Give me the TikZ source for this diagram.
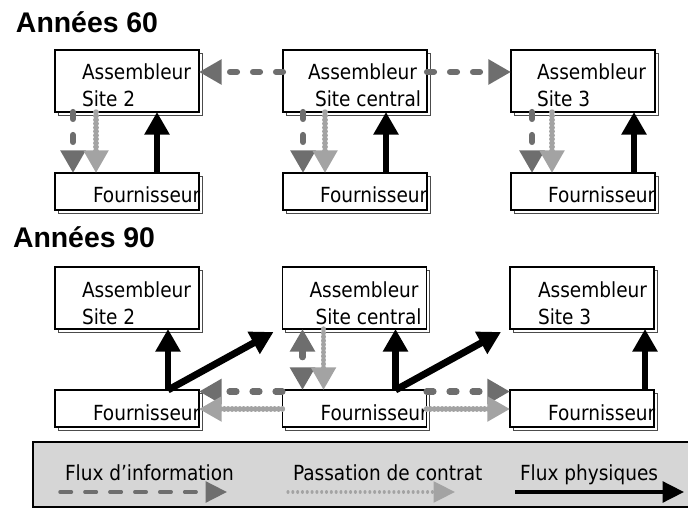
\documentclass[tikz,border=0pt]{standalone}
\usepackage{fontspec}
\setmainfont{DejaVu Sans}[FakeStretch=0.89]
\newfontfamily\titlefont{Liberation Sans}
\usetikzlibrary{arrows.meta,calc,shadows}

\definecolor{infogrey}{HTML}{6E6E6E}
\definecolor{contractgrey}{HTML}{A3A3A3}
\definecolor{legendfill}{HTML}{D6D6D6}

\tikzset{
  box/.style={draw=black, line width=0.8pt, fill=white, inner sep=0pt, outer sep=0pt,
    minimum width=108pt,
    copy shadow={shadow xshift=2.2pt, shadow yshift=-2.2pt, draw=black!70, fill=white, line width=0.6pt}},
  asm/.style={box, minimum height=46.5pt},
  four/.style={box, minimum height=27.75pt},
  lbl/.style={anchor=base west, inner sep=0pt, outer sep=0pt,
    font=\fontsize{15.6pt}{18pt}\selectfont},
  title/.style={anchor=base west, inner sep=0pt, outer sep=0pt,
    font=\titlefont\bfseries\fontsize{21.3pt}{24pt}\selectfont},
  bighead/.style={-{Triangle[width=18pt,length=17pt]}},
  info/.style={draw=infogrey, line width=4.6pt, line cap=round, dash pattern=on 5.25pt off 12pt, bighead},
  contract/.style={draw=contractgrey, line width=4pt, line cap=round, dash pattern=on 0.01pt off 2.9pt, bighead},
  phys/.style={draw=black, line width=5.2pt, bighead},
  smallhead/.style={-{Triangle[width=15.5pt,length=16pt]}},
  infokey/.style={draw=infogrey, line width=2.6pt, line cap=round, dash pattern=on 8.6pt off 10.1pt, smallhead},
  contractkey/.style={draw=contractgrey, line width=2.3pt, line cap=round, dash pattern=on 0.01pt off 3.6pt, smallhead},
  physkey/.style={draw=black, line width=2.6pt, smallhead},
  keybox/.style={draw=black, line width=1.8pt, fill=legendfill, inner sep=0pt, outer sep=0pt,
    minimum width=504pt, minimum height=48.75pt}
}

\begin{document}
\begin{tikzpicture}[x=0.75pt, y=-0.75pt]
\useasboundingbox (0,0) rectangle (688,509);

% ---------- Années 60 ----------
\node[title] (t60) at (16,33) {Années 60};

\node[asm] (a1) at (127,81) {};
\node[asm] (a2) at (355,81) {};
\node[asm] (a3) at (583,81) {};
\node[four] (f1) at (127,191.5) {};
\node[four] (f2) at (355,191.5) {};
\node[four] (f3) at (583,191.5) {};

\node[lbl] (a1x) at ($(a1.north west)+(27,30)$) {Assembleur};
\node[lbl] (a1y) at ($(a1.north west)+(27,57)$) {Site 2};
\node[lbl] (a2x) at ($(a2.north west)+(25,30)$) {Assembleur};
\node[lbl] (a2y) at ($(a2.north west)+(32,57)$) {Site central};
\node[lbl] (a3x) at ($(a3.north west)+(26,30)$) {Assembleur};
\node[lbl] (a3y) at ($(a3.north west)+(26,57)$) {Site 3};
\node[lbl] (f1x) at ($(f1.north west)+(38,30)$) {Fournisseur};
\node[lbl] (f2x) at ($(f2.north west)+(37,30)$) {Fournisseur};
\node[lbl] (f3x) at ($(f3.north west)+(37,30)$) {Fournisseur};

% information exchanged between the assembly sites
\draw[info] ($(a2.north west)+(0,22)$) -- ($(a1.north east)+(0,22)$);
\draw[info] ($(a2.north east)+(0,22)$) -- ($(a3.north west)+(0,22)$);

% each site with its own supplier
\draw[info] ($(a1.south west)+(18,0)$) -- ($(f1.north west)+(18,0)$);
\draw[contract] ($(a1.south west)+(41,0)$) -- ($(f1.north west)+(41,0)$);
\draw[phys] ($(f1.north west)+(102,0)$) -- ($(a1.south west)+(102,0)$);

\draw[info] ($(a2.south west)+(20,0)$) -- ($(f2.north west)+(20,0)$);
\draw[contract] ($(a2.south west)+(42,0)$) -- ($(f2.north west)+(42,0)$);
\draw[phys] ($(f2.north west)+(103,0)$) -- ($(a2.south west)+(103,0)$);

\draw[info] ($(a3.south west)+(21,0)$) -- ($(f3.north west)+(21,0)$);
\draw[contract] ($(a3.south west)+(41,0)$) -- ($(f3.north west)+(41,0)$);
\draw[phys] ($(f3.north west)+(123,0)$) -- ($(a3.south west)+(123,0)$);

% ---------- Années 90 ----------
\node[title] (t90) at (13,248) {Années 90};

\node[asm] (a4) at (127,298) {};
\node[asm] (a5) at (354.5,298) {};
\node[asm] (a6) at (582,298) {};
\node[four] (f4) at (127,408.5) {};
\node[four] (f5) at (354.5,408.5) {};
\node[four] (f6) at (582,408.5) {};

\node[lbl] (a4x) at ($(a4.north west)+(27,31)$) {Assembleur};
\node[lbl] (a4y) at ($(a4.north west)+(27,58)$) {Site 2};
\node[lbl] (a5x) at ($(a5.north west)+(27,31)$) {Assembleur};
\node[lbl] (a5y) at ($(a5.north west)+(33,58)$) {Site central};
\node[lbl] (a6x) at ($(a6.north west)+(28,31)$) {Assembleur};
\node[lbl] (a6y) at ($(a6.north west)+(28,58)$) {Site 3};
\node[lbl] (f4x) at ($(f4.north west)+(38,30.5)$) {Fournisseur};
\node[lbl] (f5x) at ($(f5.north west)+(38,30.5)$) {Fournisseur};
\node[lbl] (f6x) at ($(f6.north west)+(38,30.5)$) {Fournisseur};

% central site and its supplier
\draw[info, {Triangle[width=18pt,length=17pt]}-{Triangle[width=18pt,length=17pt]}]
  ($(a5.south west)+(20,0)$) -- ($(f5.north west)+(20,0)$);
\draw[contract] ($(a5.south west)+(41,0)$) -- ($(f5.north west)+(41,0)$);

% the central supplier serves the other suppliers
\draw[info] ($(f5.north west)+(0,1.5)$) -- ($(f4.north east)+(0,1.5)$);
\draw[contract] ($(f5.north west)+(0,19)$) -- ($(f4.north east)+(0,19)$);
\draw[info] ($(f5.north east)+(0,1.5)$) -- ($(f6.north west)+(0,1.5)$);
\draw[contract] ($(f5.north east)+(0,19)$) -- ($(f6.north west)+(0,19)$);

% physical deliveries
\coordinate (p4) at ($(f4.north west)+(113,0)$);
\coordinate (p5) at ($(f5.north west)+(113,0)$);
\draw[phys] (p4) -- ($(a4.south west)+(113,0)$);
\draw[phys] (p4) -- ($(a5.south west)+(-9,3)$);
\draw[phys] (p5) -- ($(a5.south west)+(113,0)$);
\draw[phys] (p5) -- ($(a6.south west)+(-9,3)$);
\draw[phys] ($(f6.north west)+(135,0)$) -- ($(a6.south west)+(135,0)$);

% ---------- key ----------
\node[keybox] (key) at (369,474.5) {};
\node[lbl] (k1) at (65,480) {Flux d’information};
\node[lbl] (k2) at (293,480) {Passation de contrat};
\node[lbl] (k3) at (520,480) {Flux physiques};
\coordinate (k1s) at (60,492);
\coordinate (k1e) at (227,492);
\coordinate (k2s) at (288,492);
\coordinate (k2e) at (455,492);
\coordinate (k3s) at (515,492);
\coordinate (k3e) at (684,492);
\draw[infokey] (k1s) -- (k1e);
\draw[contractkey] (k2s) -- (k2e);
\draw[physkey] (k3s) -- (k3e);
\end{tikzpicture}
\end{document}
